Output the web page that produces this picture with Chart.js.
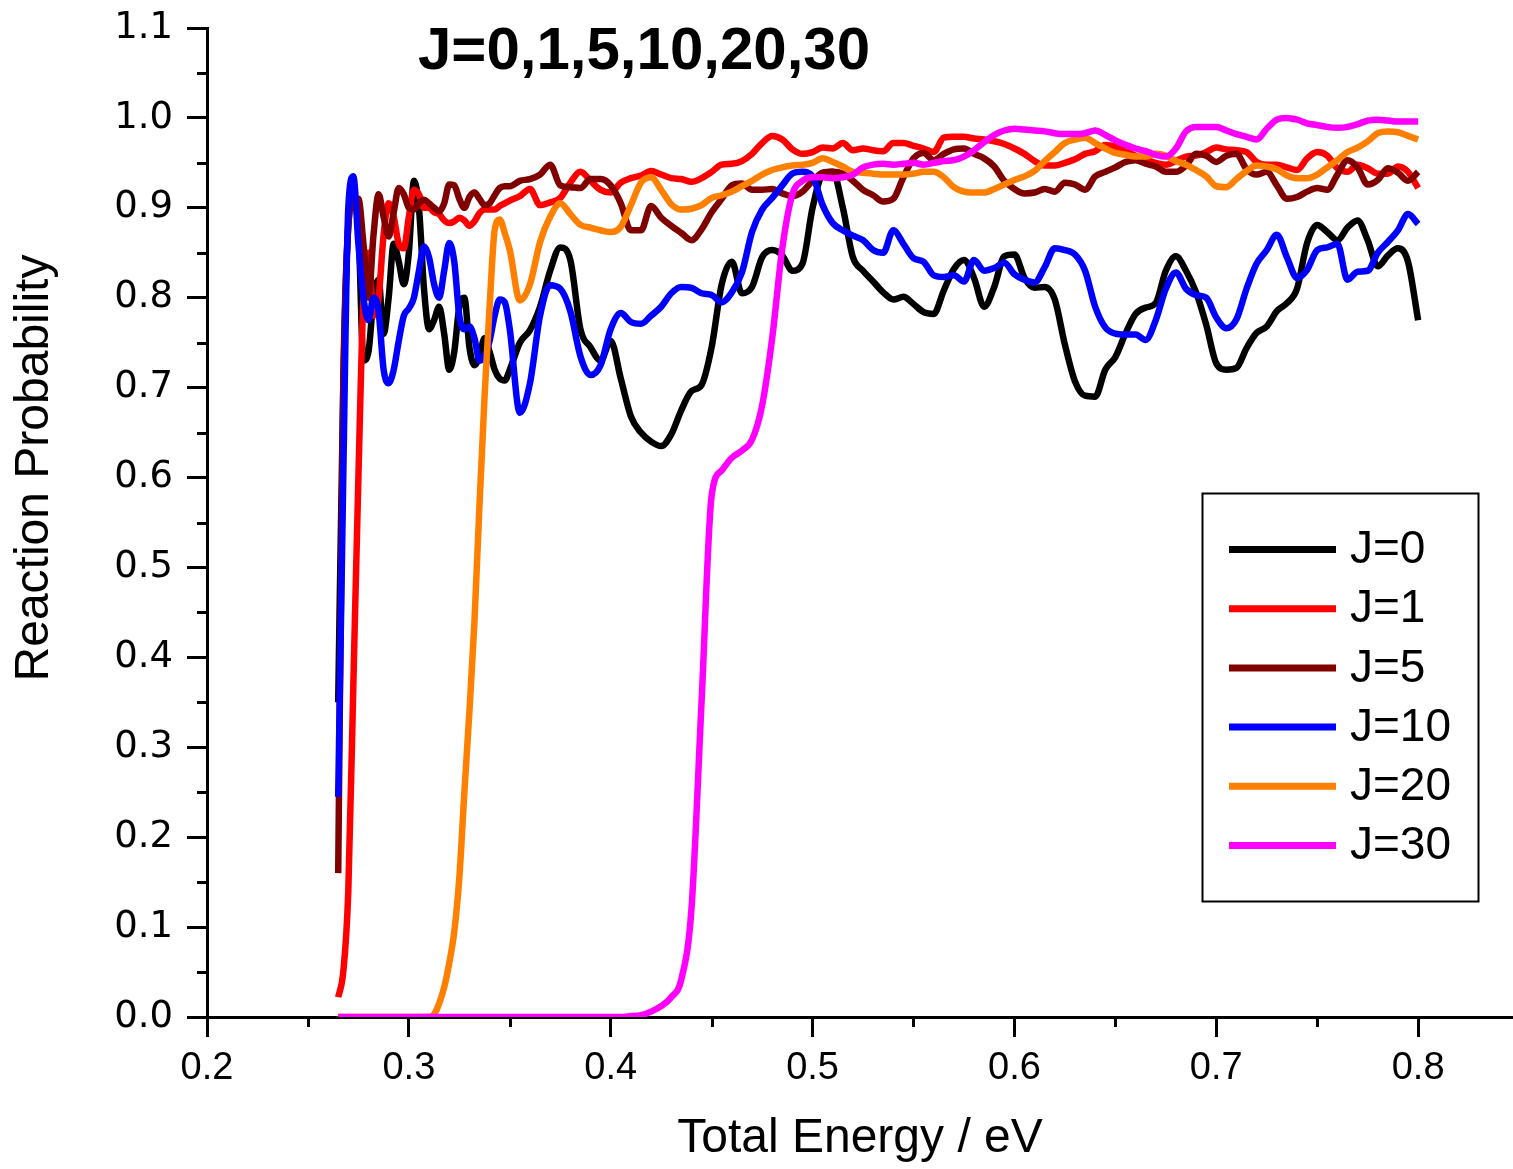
<!DOCTYPE html>
<html>
<head>
<meta charset="utf-8">
<script src="https://cdn.jsdelivr.net/npm/chart.js@4.4.1/dist/chart.umd.min.js"></script>
<style>
html,body{margin:0;padding:0;background:#ffffff;}
#wrap{width:1513px;height:1169px;}
</style>
</head>
<body>
<div id="wrap"><canvas id="c" width="1513" height="1169"></canvas></div>
<script>
// ---------- data ----------
const energy = [
  0.265,0.2675,0.27,0.2725,0.275,0.2775,0.28,0.2825,0.285,0.2875,
  0.29,0.2925,0.295,0.2975,0.3,0.3025,0.305,0.3075,0.31,0.3125,
  0.315,0.3175,0.32,0.3225,0.325,0.3275,0.33,0.3325,0.335,0.3375,
  0.34,0.3425,0.345,0.3475,0.35,
  0.355,0.36,0.365,0.37,0.375,0.38,0.385,0.39,0.395,0.4,
  0.405,0.41,0.415,0.42,0.425,0.43,0.435,0.44,0.445,0.45,
  0.455,0.46,0.465,0.47,0.475,0.48,0.485,0.49,0.495,0.5,
  0.505,0.51,0.515,0.52,0.525,0.53,0.535,0.54,0.545,0.55,
  0.555,0.56,0.565,0.57,0.575,0.58,0.585,0.59,0.595,0.6,
  0.605,0.61,0.615,0.62,0.625,0.63,0.635,0.64,0.645,0.65,
  0.655,0.66,0.665,0.67,0.675,0.68,0.685,0.69,0.695,0.7,
  0.705,0.71,0.715,0.72,0.725,0.73,0.735,0.74,0.745,0.75,
  0.755,0.76,0.765,0.77,0.775,0.78,0.785,0.79,0.795,0.8
];

const probJ0 = [
  0.35,0.70,0.88,0.91,0.88,0.73,0.74,0.80,0.82,0.76,
  0.80,0.86,0.84,0.815,0.85,0.93,0.90,0.81,0.765,0.775,
  0.79,0.76,0.72,0.74,0.79,0.80,0.745,0.725,0.735,0.755,
  0.74,0.72,0.71,0.708,0.72,
  0.75,0.764,0.79,0.83,0.856,0.842,0.765,0.745,0.73,0.752,
  0.71,0.668,0.65,0.64,0.635,0.648,0.675,0.696,0.703,0.745,
  0.815,0.84,0.805,0.812,0.845,0.853,0.847,0.83,0.838,0.90,
  0.937,0.94,0.90,0.845,0.83,0.818,0.806,0.798,0.801,0.793,
  0.784,0.782,0.808,0.832,0.842,0.822,0.79,0.812,0.846,0.848,
  0.822,0.811,0.812,0.798,0.748,0.707,0.691,0.69,0.72,0.734,
  0.76,0.782,0.789,0.794,0.83,0.846,0.83,0.806,0.77,0.727,
  0.72,0.722,0.744,0.761,0.768,0.785,0.794,0.81,0.861,0.881,
  0.873,0.864,0.878,0.886,0.864,0.835,0.847,0.855,0.84,0.775
];

const probJ1 = [
  0.022,0.05,0.14,0.37,0.60,0.80,0.85,0.78,0.80,0.87,
  0.905,0.89,0.86,0.855,0.89,0.92,0.915,0.90,0.90,0.895,
  0.893,0.886,0.883,0.885,0.889,0.886,0.88,0.885,0.894,0.898,
  0.898,0.898,0.902,0.905,0.908,
  0.913,0.921,0.903,0.906,0.911,0.928,0.94,0.93,0.92,0.917,
  0.928,0.933,0.936,0.941,0.937,0.933,0.932,0.929,0.933,0.94,
  0.948,0.949,0.952,0.96,0.972,0.98,0.976,0.965,0.96,0.962,
  0.967,0.966,0.972,0.964,0.966,0.964,0.963,0.972,0.972,0.969,
  0.966,0.962,0.978,0.979,0.979,0.977,0.976,0.974,0.971,0.966,
  0.96,0.952,0.947,0.947,0.95,0.954,0.96,0.963,0.97,0.968,
  0.963,0.958,0.954,0.95,0.948,0.952,0.957,0.958,0.962,0.967,
  0.965,0.964,0.962,0.951,0.948,0.948,0.945,0.942,0.955,0.962,
  0.958,0.944,0.94,0.948,0.944,0.938,0.938,0.946,0.94,0.922
];

const probJ5 = [
  0.16,0.70,0.88,0.91,0.91,0.86,0.80,0.87,0.915,0.89,
  0.868,0.895,0.922,0.915,0.90,0.898,0.905,0.909,0.905,0.90,
  0.896,0.905,0.926,0.925,0.91,0.90,0.912,0.917,0.91,0.903,
  0.905,0.914,0.922,0.924,0.924,
  0.93,0.932,0.937,0.948,0.925,0.923,0.922,0.932,0.932,0.925,
  0.905,0.875,0.875,0.902,0.889,0.88,0.872,0.864,0.876,0.895,
  0.91,0.925,0.927,0.92,0.92,0.921,0.916,0.913,0.918,0.93,
  0.939,0.94,0.938,0.93,0.92,0.914,0.907,0.91,0.934,0.955,
  0.961,0.953,0.96,0.965,0.966,0.96,0.955,0.946,0.93,0.921,
  0.916,0.917,0.921,0.918,0.928,0.926,0.92,0.935,0.94,0.945,
  0.951,0.953,0.949,0.946,0.94,0.94,0.947,0.96,0.958,0.951,
  0.958,0.96,0.943,0.937,0.94,0.925,0.91,0.912,0.918,0.922,
  0.92,0.937,0.953,0.945,0.926,0.931,0.944,0.939,0.93,0.94
];

const probJ10 = [
  0.245,0.60,0.90,0.935,0.86,0.80,0.775,0.80,0.785,0.72,
  0.705,0.72,0.752,0.78,0.788,0.80,0.83,0.857,0.845,0.815,
  0.80,0.83,0.861,0.84,0.78,0.765,0.768,0.755,0.73,0.735,
  0.752,0.78,0.798,0.795,0.765,
  0.672,0.705,0.78,0.814,0.81,0.785,0.735,0.714,0.725,0.765,
  0.783,0.773,0.771,0.78,0.79,0.805,0.812,0.811,0.805,0.803,
  0.795,0.806,0.828,0.873,0.898,0.911,0.925,0.938,0.94,0.935,
  0.903,0.883,0.875,0.869,0.864,0.853,0.85,0.875,0.86,0.844,
  0.84,0.825,0.823,0.825,0.818,0.842,0.83,0.833,0.839,0.826,
  0.82,0.817,0.834,0.855,0.853,0.848,0.83,0.79,0.767,0.76,
  0.759,0.759,0.753,0.775,0.81,0.828,0.81,0.803,0.80,0.778,
  0.766,0.776,0.81,0.838,0.853,0.87,0.845,0.822,0.831,0.853,
  0.856,0.86,0.82,0.829,0.83,0.85,0.862,0.875,0.893,0.882
];

const probJ20 = [
  0,0,0,0,0,0,0,0,0,0,
  0,0,0,0,0,0,0,0,0,0.003,
  0.015,0.033,0.06,0.095,0.155,0.25,0.34,0.44,0.57,0.69,
  0.79,0.875,0.887,0.872,0.853,
  0.797,0.815,0.862,0.89,0.905,0.893,0.881,0.878,0.875,0.873,
  0.879,0.903,0.928,0.934,0.92,0.904,0.898,0.899,0.903,0.911,
  0.914,0.918,0.924,0.93,0.937,0.942,0.945,0.947,0.948,0.95,
  0.955,0.951,0.946,0.94,0.939,0.938,0.937,0.937,0.937,0.938,
  0.94,0.94,0.934,0.923,0.918,0.917,0.917,0.921,0.926,0.931,
  0.935,0.941,0.952,0.962,0.972,0.976,0.978,0.972,0.966,0.961,
  0.959,0.957,0.957,0.96,0.958,0.952,0.948,0.942,0.935,0.924,
  0.923,0.932,0.941,0.947,0.946,0.943,0.936,0.933,0.933,0.937,
  0.945,0.953,0.962,0.967,0.974,0.983,0.985,0.984,0.98,0.976
];

const probJ30 = [
  0,0,0,0,0,0,0,0,0,0,
  0,0,0,0,0,0,0,0,0,0,
  0,0,0,0,0,0,0,0,0,0,
  0,0,0,0,0,
  0,0,0,0,0,0,0,0,0,0,
  0,0.001,0.002,0.006,0.012,0.022,0.042,0.12,0.35,0.58,
  0.608,0.622,0.63,0.642,0.68,0.755,0.855,0.915,0.93,0.934,
  0.934,0.933,0.934,0.937,0.945,0.948,0.949,0.948,0.949,0.95,
  0.948,0.95,0.952,0.953,0.957,0.964,0.973,0.981,0.986,0.988,
  0.987,0.986,0.985,0.983,0.982,0.982,0.983,0.986,0.981,0.975,
  0.97,0.966,0.963,0.959,0.957,0.966,0.985,0.99,0.99,0.99,
  0.986,0.982,0.979,0.976,0.988,0.998,1.0,0.998,0.994,0.992,
  0.99,0.989,0.99,0.993,0.997,0.998,0.997,0.996,0.996,0.996
];

const seriesLabels = ['J=0','J=1','J=5','J=10','J=20','J=30'];
const seriesValues = [probJ0, probJ1, probJ5, probJ10, probJ20, probJ30];
const seriesColors = ['#000000','#ff0000','#800000','#0000ff','#ff8000','#ff00ff'];

const xMajorTicks = [0.2,0.3,0.4,0.5,0.6,0.7,0.8];
const xMinorTicks = [0.25,0.35,0.45,0.55,0.65,0.75];
const yMajorTicks = [0.0,0.1,0.2,0.3,0.4,0.5,0.6,0.7,0.8,0.9,1.0,1.1];
const yMinorTicks = [0.05,0.15,0.25,0.35,0.45,0.55,0.65,0.75,0.85,0.95,1.05];

const chartTitle = 'J=0,1,5,10,20,30';
const xTitle = 'Total Energy / eV';
const yTitle = 'Reaction Probability';

// ---------- drawing ----------
const FONT = "'Liberation Sans', Arial, Helvetica, sans-serif";

const decorPlugin = {
  id: 'decor',
  afterDraw(chart) {
    const ctx = chart.ctx;
    const xs = chart.scales.x, ys = chart.scales.y;
    ctx.save();
    // minor ticks
    ctx.strokeStyle = '#000';
    ctx.lineWidth = 3;
    ctx.lineCap = 'butt';
    const axisY = ys.getPixelForValue(0);
    const axisX = xs.getPixelForValue(xs.min);
    xMinorTicks.forEach(v => {
      const px = Math.round(xs.getPixelForValue(v)) + 0.5;
      ctx.beginPath(); ctx.moveTo(px, axisY); ctx.lineTo(px, axisY + 10); ctx.stroke();
    });
    yMinorTicks.forEach(v => {
      const py = Math.round(ys.getPixelForValue(v)) + 0.5;
      ctx.beginPath(); ctx.moveTo(axisX, py); ctx.lineTo(axisX - 10, py); ctx.stroke();
    });

    // y axis title
    ctx.fillStyle = '#000';
    ctx.font = '48px ' + FONT;
    ctx.save();
    ctx.translate(35, 468);
    ctx.rotate(-Math.PI / 2);
    ctx.textAlign = 'center';
    ctx.textBaseline = 'middle';
    ctx.fillText(yTitle, 0, 0);
    ctx.restore();

    // main title
    ctx.font = 'bold 60px ' + FONT;
    ctx.textAlign = 'left';
    ctx.textBaseline = 'alphabetic';
    ctx.fillText(chartTitle, 418, 69);

    // legend
    const bx = 1202, by = 493, bw = 276, bh = 408;
    ctx.lineWidth = 2;
    ctx.strokeStyle = '#000';
    ctx.strokeRect(bx + 0.5, by + 0.5, bw, bh);
    ctx.font = '46px ' + FONT;
    ctx.textBaseline = 'middle';
    chart.data.datasets.forEach((ds, i) => {
      const cy = 549.5 + i * 59.2;
      ctx.strokeStyle = ds.borderColor;
      ctx.lineWidth = 7;
      ctx.beginPath(); ctx.moveTo(1229, cy); ctx.lineTo(1336, cy); ctx.stroke();
      ctx.fillStyle = '#000';
      ctx.fillText(ds.label, 1350, cy + 1);
    });
    ctx.restore();
  }
};

const datasets = seriesLabels.map((lab, i) => ({
  label: lab,
  data: energy.map((e, k) => ({x: e, y: seriesValues[i][k]})),
  borderColor: seriesColors[i],
  backgroundColor: seriesColors[i],
  borderWidth: 6.5,
  pointRadius: 0,
  pointHoverRadius: 0,
  fill: false,
  cubicInterpolationMode: 'monotone',
  borderJoinStyle: 'round',
  order: seriesLabels.length - i
}));

new Chart(document.getElementById('c').getContext('2d'), {
  type: 'line',
  data: { datasets },
  options: {
    responsive: false,
    animation: false,
    devicePixelRatio: 1,
    layout: { padding: { top: 28, right: 0, left: 0, bottom: 0 } },
    plugins: {
      legend: { display: false },
      tooltip: { enabled: false },
      title: { display: false }
    },
    scales: {
      x: {
        type: 'linear',
        min: 0.2,
        max: 0.847,
        afterBuildTicks: s => { s.ticks = xMajorTicks.map(v => ({value: v})); },
        afterFit: s => { s.height = 152; s.paddingLeft = 0; s.paddingRight = 0; },
        ticks: {
          color: '#000',
          font: { family: FONT, size: 38 },
          padding: 9,
          maxRotation: 0,
          autoSkip: false,
          callback: v => Number(v).toFixed(1)
        },
        grid: { drawOnChartArea: false, drawTicks: true, tickLength: 20, tickWidth: 3, tickColor: '#000' },
        border: { display: true, color: '#000', width: 3 },
        title: {
          display: true, text: xTitle, color: '#000',
          font: { family: FONT, size: 48 },
          padding: { top: 0, bottom: 1 }
        }
      },
      y: {
        type: 'linear',
        min: 0,
        max: 1.1,
        afterBuildTicks: s => { s.ticks = yMajorTicks.map(v => ({value: v})); },
        afterFit: s => { s.width = 207; s.paddingTop = 0; s.paddingBottom = 0; },
        ticks: {
          color: '#000',
          font: { family: "'DejaVu Sans', sans-serif", size: 37 },
          padding: 14,
          autoSkip: false,
          callback: v => Number(v).toFixed(1)
        },
        grid: { drawOnChartArea: false, drawTicks: true, tickLength: 20, tickWidth: 3, tickColor: '#000' },
        border: { display: true, color: '#000', width: 3 }
      }
    }
  },
  plugins: [decorPlugin]
});
</script>
</body>
</html>
